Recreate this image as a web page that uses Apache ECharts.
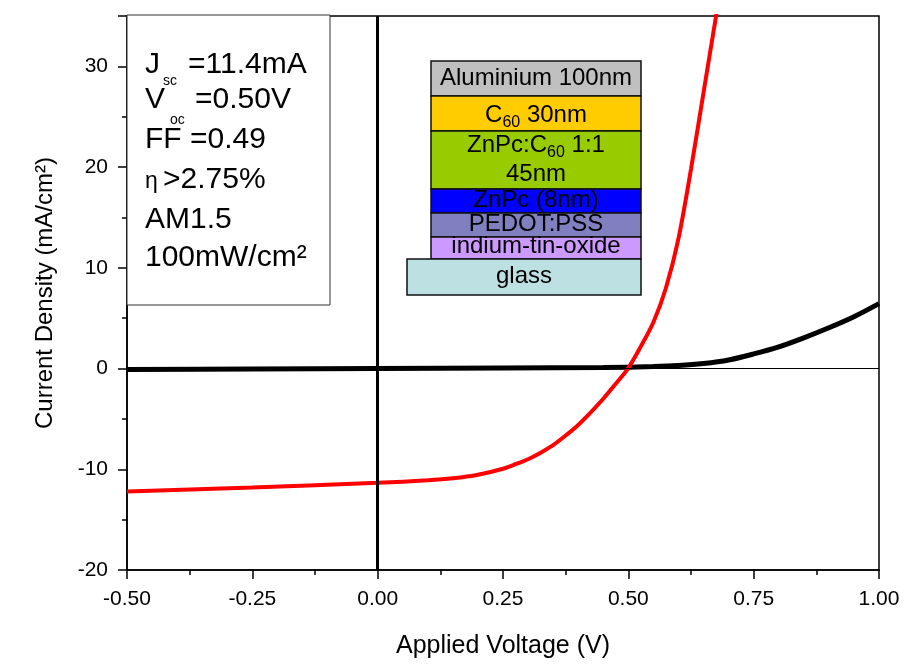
<!DOCTYPE html>
<html>
<head>
<meta charset="utf-8">
<script src="https://cdn.jsdelivr.net/npm/echarts@6/dist/echarts.min.js"></script>
<style>
html,body{margin:0;padding:0;background:#fff}
#jvChart{width:907px;height:666px}
</style>
</head>
<body>
<div id="jvChart"></div>
<script>
// dark curve (black) and illuminated curve (red)
var darkV = [-0.5, -0.25, 0, 0.25, 0.45, 0.55, 0.6, 0.65, 0.7, 0.75, 0.8, 0.85, 0.9, 0.95, 1.0];
var darkJ = [-0.1, -0.05, 0, 0.05, 0.1, 0.2, 0.3, 0.5, 0.85, 1.45, 2.15, 3.05, 4.05, 5.15, 6.45];
var lightV = [-0.5, -0.25, 0, 0.1, 0.15, 0.2, 0.25, 0.275, 0.3, 0.325, 0.35, 0.375, 0.4, 0.425, 0.45, 0.475,
              0.5, 0.525, 0.55, 0.575, 0.6, 0.625, 0.65, 0.675, 0.7];
var lightJ = [-12.2, -11.8, -11.35, -11.1, -10.9, -10.55, -9.95, -9.5, -9.0, -8.35, -7.6, -6.65, -5.6, -4.35, -3.0, -1.5,
              0.05, 2.2, 4.6, 8.0, 12.9, 19.8, 27.4, 35.0, 42.5];

var xRange = [-0.5, 1.0];
var yRange = [-20, 35];

var font = "'Liberation Sans', Arial, sans-serif";

function pairs(xs, ys) {
    var out = [];
    for (var i = 0; i < xs.length; i++) out.push([xs[i], ys[i]]);
    return out;
}

var ctx = document.createElement('canvas').getContext('2d');
function textWidth(s, size) {
    ctx.font = size + "px 'Liberation Sans', Arial, sans-serif";
    return ctx.measureText(s).width;
}

// text placed by its baseline (canvas 'middle' sits ~0.35em above it)
function txt(s, x, base, size, align) {
    return {
        type: 'text', x: x, y: base - 0.35 * size, z: 10,
        style: {
            text: s, fontSize: size, fontFamily: font, fill: '#000',
            align: align || 'left', verticalAlign: 'middle'
        }
    };
}
// label with a subscript, centred on cx: parts = [text, size, drop]
function subLabel(parts, cx, base) {
    var total = 0, i;
    for (i = 0; i < parts.length; i++) total += textWidth(parts[i][0], parts[i][1]);
    var x = cx - total / 2, out = [];
    for (i = 0; i < parts.length; i++) {
        out.push(txt(parts[i][0], x, base + parts[i][2], parts[i][1]));
        x += textWidth(parts[i][0], parts[i][1]);
    }
    return out;
}
function box(x, y, w, h, color) {
    return {
        type: 'rect', z: 5,
        shape: { x: x, y: y, width: w, height: h },
        style: { fill: color, stroke: '#111', lineWidth: 1.5 }
    };
}

var graphics = [
    // parameters box
    { type: 'rect', z: 4, shape: { x: 127, y: 15, width: 203, height: 290 },
      style: { fill: '#fff', stroke: '#333', lineWidth: 1 } },
    txt('J', 145, 75, 30), txt('sc', 163, 86, 14), txt('=11.4mA', 188, 75, 30),
    txt('V', 145, 110, 30), txt('oc', 170, 125, 14), txt('=0.50V', 195, 110, 30),
    txt('FF =0.49', 145, 150, 30),
    txt('\u03b7', 145, 190, 23), txt('>2.75%', 163, 190, 30),
    txt('AM1.5', 145, 230, 30),
    txt('100mW/cm\u00b2', 145, 268, 30),
    // device stack
    box(431, 61, 210, 35, '#C0C0C0'),
    box(431, 96, 210, 35, '#FFCC00'),
    box(431, 131, 210, 58, '#99CC00'),
    box(431, 189, 210, 24, '#0000FF'),
    box(431, 213, 210, 24, '#8080C0'),
    box(431, 237, 210, 22, '#CC99FF'),
    box(407, 259, 234, 36, '#BDE0E2'),
    txt('Aluminium 100nm', 536, 87, 24, 'center'),
    txt('45nm', 536, 183, 24, 'center'),
    txt('ZnPc (8nm)', 536, 209, 24, 'center'),
    txt('PEDOT:PSS', 536, 233, 24, 'center'),
    txt('indium-tin-oxide', 536, 255, 24, 'center'),
    txt('glass', 524, 285, 24, 'center')
].concat(
    subLabel([['C', 24, 0], ['60', 16, 4], [' 30nm', 24, 0]], 536, 124),
    subLabel([['ZnPc:C', 24, 0], ['60', 16, 4], [' 1:1', 24, 0]], 536, 154)
);

var option = {
    animation: false,
    backgroundColor: '#fff',
    grid: {
        left: 127, right: 28, top: 16, bottom: 96,
        show: true, borderColor: '#000', borderWidth: 1.5
    },
    xAxis: {
        type: 'value', min: xRange[0], max: xRange[1], interval: 0.25,
        name: 'Applied Voltage (V)', nameLocation: 'middle', nameGap: 64,
        nameTextStyle: { fontSize: 25, fontFamily: font, color: '#000' },
        axisLine: { onZero: false, lineStyle: { color: '#000', width: 1.5 } },
        axisTick: { length: 9, lineStyle: { color: '#000', width: 1.5 } },
        minorTick: { show: true, splitNumber: 2, length: 5, lineStyle: { color: '#000', width: 1.5 } },
        axisLabel: {
            margin: 19, fontSize: 21, fontFamily: font, color: '#000',
            formatter: function (v) { return v.toFixed(2); }
        },
        splitLine: { show: false }
    },
    yAxis: {
        type: 'value', min: yRange[0], max: yRange[1], interval: 10,
        name: 'Current Density (mA/cm\u00b2)', nameLocation: 'middle', nameGap: 70,
        nameTextStyle: { fontSize: 24, fontFamily: font, color: '#000' },
        axisLine: { onZero: false, lineStyle: { color: '#000', width: 1.5 } },
        axisTick: { length: 9, lineStyle: { color: '#000', width: 1.5 } },
        minorTick: { show: true, splitNumber: 2, length: 5, lineStyle: { color: '#000', width: 1.5 } },
        axisLabel: { margin: 19, fontSize: 21, fontFamily: font, color: '#000', showMaxLabel: false },
        splitLine: { show: false }
    },
    graphic: graphics,
    series: [
        {
            name: 'dark', type: 'line', data: pairs(darkV, darkJ),
            smooth: 0.3, symbol: 'none',
            lineStyle: { color: '#000', width: 5 },
            markLine: {
                silent: true, symbol: 'none', label: { show: false },
                data: [
                    { yAxis: 0, lineStyle: { color: '#000', width: 1, type: 'solid' } },
                    { xAxis: 0, lineStyle: { color: '#000', width: 3, type: 'solid' } }
                ]
            }
        },
        {
            name: 'light', type: 'line', data: pairs(lightV, lightJ),
            smooth: 0.3, symbol: 'none',
            lineStyle: { color: '#FF0000', width: 4 }
        }
    ]
};

var jvChart = echarts.init(document.getElementById('jvChart'));
jvChart.setOption(option);
</script>
</body>
</html>
